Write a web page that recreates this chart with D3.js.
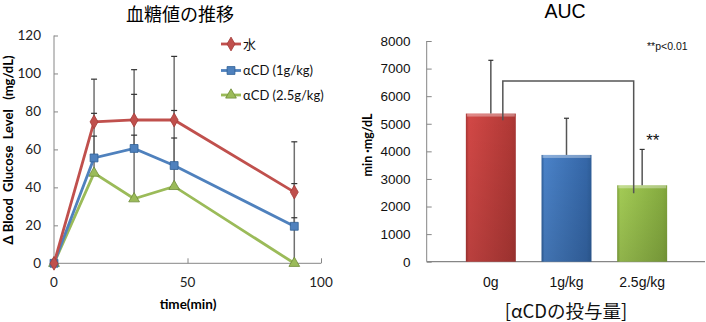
<!DOCTYPE html>
<html lang="ja">
<head>
<meta charset="UTF-8">
<title>血糖値の推移 / AUC</title>
<style>
  html, body { margin: 0; padding: 0; background: #fff; }
  svg { display: block; }
  .jp { font-family: "Noto Sans CJK JP", "Noto Sans", sans-serif; }
  .lt { font-family: Lato, "Open Sans", sans-serif; }
  .ar { font-family: "Liberation Sans", Arial, sans-serif; }
</style>
</head>
<body>
<svg id="chart" width="706" height="322"></svg>
<script src="https://cdn.jsdelivr.net/npm/d3@7"></script>
<script>
// ---- left chart data ----
const times = [0, 15, 30, 45, 90];
const seriesNames = ["水", "αCD (1g/kg)", "αCD (2.5g/kg)"];
const waterVals = [0, 74.5, 75.5, 75.5, 37.5];
const cd1Vals = [0, 55.5, 60.5, 51.5, 19.5];
const cd25Vals = [0, 47.5, 34, 40.5, 0];
// upper end of each error bar
const waterErr = [0, 97, 102, 109, 64];
const cd1Err = [0, 79, 89, 80.5, 42];
const cd25Err = [0, 67, 67.5, 66, 24];
const xTicksLeft = [0, 50, 100];
const yTicksLeft = [0, 20, 40, 60, 80, 100, 120];

// ---- right chart data ----
const doses = ["0g", "1g/kg", "2.5g/kg"];
const aucVals = [5370, 3870, 2770];
const aucErr = [7300, 5200, 4070];
const yTicksRight = [0, 1000, 2000, 3000, 4000, 5000, 6000, 7000, 8000];
// significance bracket: red bar -> green bar
const bracketTop = 6550, bracketLeftEnd = 5130, bracketRightEnd = 2480;

const colors = ["#C0504D", "#4F81BD", "#9BBB59"];
const strokeDark = ["#A33B38", "#2F5F95", "#6F8C38"];
const axisGray = "#868686";
const errGray = "#555";

const svg = d3.select("#chart");

/* ===== Left: 血糖値の推移 ===== */
const x = d3.scaleLinear().domain([0, 100]).range([54, 321]);
const y = d3.scaleLinear().domain([0, 120]).range([263.3, 35.5]);

svg.append("text").attr("class", "jp")
  .attr("x", 180).attr("y", 20.5).attr("text-anchor", "middle")
  .attr("font-size", 18).attr("fill", "#000").text("血糖値の推移");

// axes
const gyl = svg.append("g").attr("transform", `translate(${x(0)},0)`)
  .call(d3.axisRight(y).tickValues(yTicksLeft).tickSize(4).tickFormat(""));
gyl.selectAll("line, path").attr("stroke", axisGray);
gyl.select(".domain").attr("d", `M0,${y(120)}V${y(0)}`);
const gxl = svg.append("g").attr("transform", `translate(0,${y(0)})`)
  .call(d3.axisTop(x).tickValues(xTicksLeft).tickSize(5).tickFormat(""));
gxl.selectAll("line, path").attr("stroke", axisGray);
gxl.select(".domain").attr("d", `M${x(0)},0H${x(100)}`);

svg.append("g").selectAll("text").data(yTicksLeft).join("text")
  .attr("class", "lt").attr("x", 41).attr("y", d => y(d) + 4.5)
  .attr("text-anchor", "end").attr("font-size", 13.5).attr("fill", "#222")
  .text(d => d);
svg.append("g").selectAll("text").data(xTicksLeft).join("text")
  .attr("class", "lt").attr("x", d => x(d)).attr("y", 287)
  .attr("text-anchor", "middle").attr("font-size", 13.5).attr("fill", "#222")
  .text(d => d);

svg.append("text").attr("class", "lt")
  .attr("x", 188).attr("y", 309).attr("text-anchor", "middle")
  .attr("font-size", 13.5).attr("font-weight", "bold").text("time(min)");
svg.append("text").attr("class", "lt")
  .attr("transform", "translate(13,150) rotate(-90)").attr("text-anchor", "middle")
  .attr("font-size", 13).attr("font-weight", "bold").attr("xml:space", "preserve")
  .text("Δ Blood  Glucose  Level   (mg/dL)");

const allVals = [waterVals, cd1Vals, cd25Vals];
const allErr = [waterErr, cd1Err, cd25Err];

// error bars (upper only)
allVals.forEach((vals, s) => {
  const g = svg.append("g");
  times.forEach((t, i) => {
    if (allErr[s][i] <= vals[i]) return;
    g.append("line").attr("x1", x(t)).attr("x2", x(t))
      .attr("y1", y(vals[i])).attr("y2", y(allErr[s][i]))
      .attr("stroke", "#707070").attr("stroke-width", 1.5);
    g.append("line").attr("x1", x(t) - 3).attr("x2", x(t) + 3)
      .attr("y1", y(allErr[s][i])).attr("y2", y(allErr[s][i]))
      .attr("stroke", "#333").attr("stroke-width", 1.2);
  });
});

const line = d3.line().x((d, i) => x(times[i])).y(d => y(d));
const shapes = [d3.symbolDiamond, d3.symbolSquare, d3.symbolTriangle];
const sizes = [55, 62, 50];

function drawSeries(s) {
  svg.append("path").datum(allVals[s]).attr("d", line)
    .attr("fill", "none").attr("stroke", colors[s]).attr("stroke-width", 2.8);
  svg.append("g").selectAll("path").data(allVals[s]).join("path")
    .attr("transform", (d, i) => `translate(${x(times[i])},${y(d)})`)
    .attr("d", d3.symbol().type(shapes[s]).size(sizes[s]))
    .attr("fill", colors[s]).attr("stroke", strokeDark[s]).attr("stroke-width", 0.8);
}
[2, 1, 0].forEach(drawSeries);

// legend
const legY = [44, 70.5, 95];
seriesNames.forEach((n, s) => {
  const g = svg.append("g").attr("transform", `translate(221,${legY[s]})`);
  g.append("line").attr("x1", 0).attr("x2", 20).attr("stroke", colors[s]).attr("stroke-width", 2.8);
  g.append("path").attr("transform", "translate(10,0)")
    .attr("d", d3.symbol().type(shapes[s]).size(sizes[s]))
    .attr("fill", colors[s]).attr("stroke", strokeDark[s]).attr("stroke-width", 0.8);
  g.append("text").attr("class", s === 0 ? "jp" : "lt")
    .attr("x", 22).attr("y", 4.5).attr("font-size", 13).attr("fill", "#111").text(n);
});

/* ===== Right: AUC ===== */
const xb = d3.scaleBand().domain(doses).range([453, 680]).paddingInner(0.34).paddingOuter(0.17);
const yb = d3.scaleLinear().domain([0, 8000]).range([261.7, 41]);

svg.append("text").attr("class", "ar")
  .attr("x", 565).attr("y", 18).attr("text-anchor", "middle")
  .attr("font-size", 19.5).attr("fill", "#000").text("AUC");

const gyr = svg.append("g").attr("transform", "translate(426.7,0)")
  .call(d3.axisRight(yb).tickValues(yTicksRight).tickSize(5).tickFormat(""));
gyr.selectAll("line, path").attr("stroke", axisGray);
gyr.select(".domain").attr("d", `M0,${yb(8000)}V${yb(0)}`);
svg.append("line").attr("x1", 426.7).attr("x2", 705).attr("y1", yb(0)).attr("y2", yb(0))
  .attr("stroke", axisGray).attr("stroke-width", 1.2);

svg.append("g").selectAll("text").data(yTicksRight).join("text")
  .attr("class", "ar").attr("x", 410.5).attr("y", d => yb(d) + 4.8)
  .attr("text-anchor", "end").attr("font-size", 13.5).attr("fill", "#111")
  .text(d => d);

svg.append("text").attr("class", "lt")
  .attr("transform", "translate(372,145) rotate(-90)").attr("text-anchor", "middle")
  .attr("font-size", 12.5).attr("font-weight", "bold").text("min ·mg/dL");

// gradients for bevelled bars
const defs = svg.append("defs");
const barBase = [["#A83634", "#D24846", "#B23936"], ["#2E5E99", "#4A82C8", "#3567A8"], ["#7EA23A", "#A3CB55", "#86AC40"]];
barBase.forEach((c, i) => {
  const gr = defs.append("linearGradient").attr("id", "bg" + i)
    .attr("x1", 0).attr("x2", 1).attr("y1", 0).attr("y2", 0);
  gr.append("stop").attr("offset", 0).attr("stop-color", c[0]);
  gr.append("stop").attr("offset", 0.06).attr("stop-color", c[1]);
  gr.append("stop").attr("offset", 0.9).attr("stop-color", c[2]);
  gr.append("stop").attr("offset", 1).attr("stop-color", c[0]);
  const gv = defs.append("linearGradient").attr("id", "bv" + i)
    .attr("x1", 0).attr("x2", 0).attr("y1", 0).attr("y2", 1);
  gv.append("stop").attr("offset", 0).attr("stop-color", "#000").attr("stop-opacity", 0);
  gv.append("stop").attr("offset", 1).attr("stop-color", "#000").attr("stop-opacity", 0.12);
});

const bars = svg.append("g");
doses.forEach((d, i) => {
  const bx = xb(d), bw = xb.bandwidth(), top = yb(aucVals[i]), h = yb(0) - top;
  bars.append("rect").attr("x", bx).attr("y", top).attr("width", bw).attr("height", h)
    .attr("fill", `url(#bg${i})`);
  bars.append("rect").attr("x", bx).attr("y", top).attr("width", bw).attr("height", h)
    .attr("fill", `url(#bv${i})`);
  bars.append("rect").attr("x", bx + 1).attr("y", top).attr("width", bw - 2).attr("height", 3)
    .attr("fill", "#fff").attr("opacity", 0.35);
});

// error bars (upper only)
doses.forEach((d, i) => {
  const cx = xb(d) + xb.bandwidth() / 2;
  svg.append("line").attr("x1", cx).attr("x2", cx).attr("y1", yb(aucVals[i])).attr("y2", yb(aucErr[i]))
    .attr("stroke", errGray).attr("stroke-width", 1.5);
  svg.append("line").attr("x1", cx - 2.5).attr("x2", cx + 2.5).attr("y1", yb(aucErr[i])).attr("y2", yb(aucErr[i]))
    .attr("stroke", "#333").attr("stroke-width", 1.2);
});

// significance bracket
const bL = xb(doses[0]) + xb.bandwidth() * 0.74;
const bR = xb(doses[2]) + xb.bandwidth() * 0.33;
svg.append("path")
  .attr("d", `M${bL},${yb(bracketLeftEnd)}V${yb(bracketTop)}H${bR}V${yb(bracketRightEnd)}`)
  .attr("fill", "none").attr("stroke", errGray).attr("stroke-width", 1.5);

svg.append("text").attr("class", "ar")
  .attr("x", xb(doses[2]) + xb.bandwidth() / 2 + 4).attr("y", 146).attr("text-anchor", "start")
  .attr("font-size", 17).attr("fill", "#111").text("**");
svg.append("text").attr("class", "ar")
  .attr("x", 647).attr("y", 50).attr("font-size", 10.5).attr("fill", "#111").text("**p<0.01");

svg.append("g").selectAll("text").data(doses).join("text")
  .attr("class", "ar").attr("x", d => xb(d) + xb.bandwidth() / 2).attr("y", 287)
  .attr("text-anchor", "middle").attr("font-size", 14).attr("fill", "#111").text(d => d);

svg.append("text").attr("class", "jp")
  .attr("x", 566).attr("y", 318).attr("text-anchor", "middle")
  .attr("font-size", 18.5).attr("fill", "#111").text("[αCDの投与量]");
</script>
</body>
</html>
